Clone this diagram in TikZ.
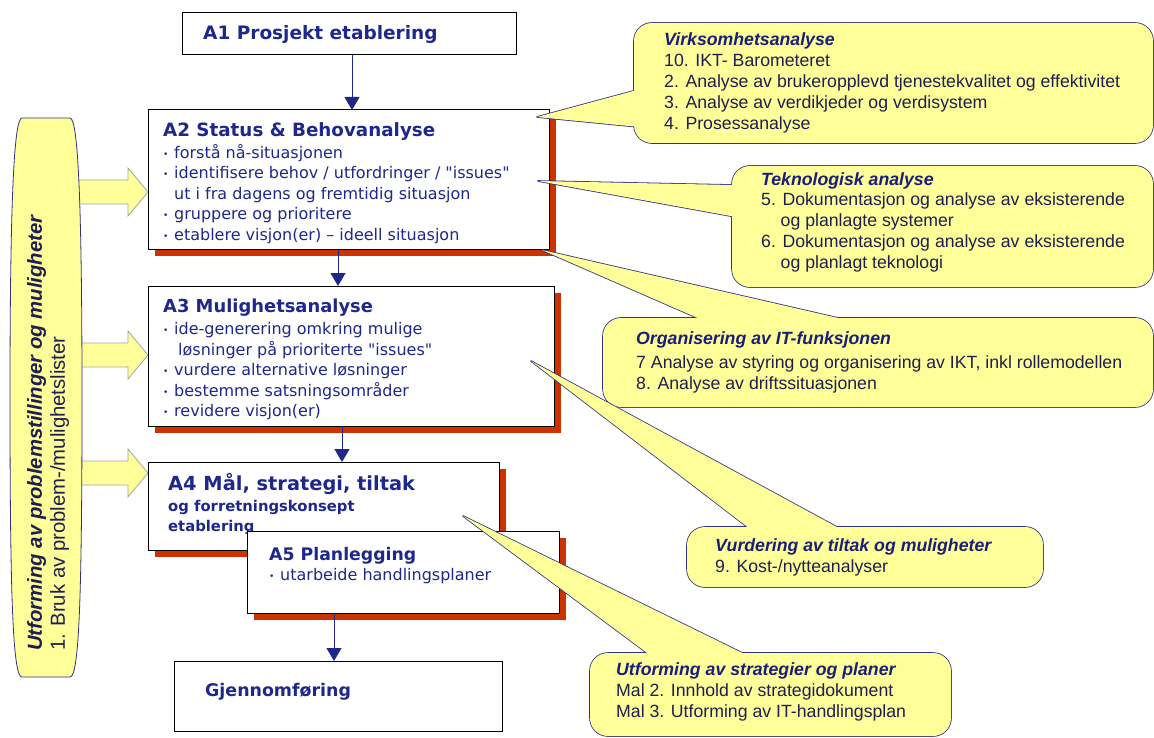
\documentclass[tikz,border=0pt]{standalone}
\usepackage{fontspec}
\setmainfont{Liberation Sans}
\newfontfamily\boxfont{DejaVu Sans}
\usetikzlibrary{arrows.meta,shadows}

\definecolor{navy}{RGB}{30,40,140}
\definecolor{inknavy}{RGB}{30,30,80}
\definecolor{titlenavy}{RGB}{25,30,120}
\definecolor{bubblefill}{RGB}{255,255,153}
\definecolor{bubbleline}{RGB}{50,50,130}
\definecolor{shadowred}{RGB}{204,51,0}
\definecolor{arrowgray}{RGB}{165,165,165}

\newcommand{\blt}{\makebox[11pt][l]{\raisebox{1pt}{\fontsize{9}{9}\selectfont•}}}

\tikzset{
  box/.style={draw=black, line width=1pt, fill=white, inner sep=0pt, outer sep=0pt, anchor=north west},
  shadowed/.style={drop shadow={shadow xshift=6.5pt, shadow yshift=-6.5pt, fill=shadowred, opacity=1}},
  boxtitle/.style={anchor=base west, inner sep=0pt, text=navy, font=\boxfont\bfseries\fontsize{#1}{#1}\selectfont},
  boxtitle/.default=18,
  boxbody/.style={anchor=base west, inner sep=0pt, align=left, text=navy, font=\boxfont\fontsize{16}{20.5}\selectfont},
  flow/.style={draw=navy, line width=1pt, -{Triangle[length=13pt,width=15pt]}},
  bubble/.style={draw=bubbleline, line width=1.6pt, fill=bubblefill, rounded corners=18pt, inner sep=0pt, outer sep=0pt, anchor=north west},
  bubblecover/.style={fill=bubblefill, rounded corners=18pt},
  tailline/.style={draw=bubbleline, line width=1.6pt, line join=round, fill=bubblefill},
  tailcover/.style={fill=bubblefill},
  bubbletext/.style={anchor=west, inner sep=0pt, align=left, text=inknavy, font=\fontsize{17.7}{21}\selectfont},
  barshape/.style={draw=bubbleline, line width=0.8pt, fill=bubblefill},
  bartext/.style={inner sep=0pt, align=left, text=inknavy, font=\fontsize{20.3}{23}\selectfont},
  blockarrow/.style={draw=arrowgray, line width=0.8pt, fill=bubblefill},
}

\begin{document}
\begin{tikzpicture}[x=1pt, y=-1pt]
    \path[use as bounding box, fill=white] (0,0) rectangle (1154,738);

    % arrows from the left bar
    \foreach \ty in {192,355,473}
        \draw[blockarrow] (70,\ty-12) -- (128,\ty-12) -- (128,\ty-24) -- (148,\ty)
            -- (128,\ty+24) -- (128,\ty+12) -- (70,\ty+12) -- cycle;

    \draw[barshape] (22,118) -- (70,118) .. controls (78,118) and (82,200) .. (82,398)
        .. controls (82,600) and (79,677) .. (70,677) -- (22,677)
        .. controls (13,677) and (10,600) .. (10,398) .. controls (10,200) and (14,118) .. (22,118) -- cycle;
    \node[bartext, rotate=90, anchor=north west] (bartxt) at (27,651)
        {{\bfseries\itshape Utforming av problemstillinger og muligheter}\\ 1. Bruk av problem-/mulighetslister};

    % boxes (multi-line texts sit on their last baseline)
    \node[box, minimum width=334pt, minimum height=42pt] (a1) at (182,13) {};
    \node[boxtitle=18.5] (a1title) at ([shift={(21,27)}]a1.north west) {A1 Prosjekt etablering};

    \node[box, shadowed, minimum width=401pt, minimum height=140pt] (a2) at (148,110) {};
    \node[boxtitle=18.3] (a2title) at ([shift={(15,27)}]a2.north west) {A2 Status \& Behovanalyse};
    \node[boxbody] (a2body) at ([shift={(15,130.3)}]a2.north west)
        {\blt forstå nå-situasjonen\\ \blt identifisere behov / utfordringer / "issues"\\
         \hspace*{11pt}ut i fra dagens og fremtidig situasjon\\ \blt gruppere og prioritere\\
         \blt etablere visjon(er) – ideell situasjon};

    \node[box, shadowed, minimum width=406pt, minimum height=140pt] (a3) at (148,286) {};
    \node[boxtitle=17.9] (a3title) at ([shift={(15,26)}]a3.north west) {A3 Mulighetsanalyse};
    \node[boxbody] (a3body) at ([shift={(15,130.6)}]a3.north west)
        {\blt ide-generering omkring mulige\\ \hspace*{15pt}løsninger på prioriterte "issues"\\
         \blt vurdere alternative løsninger\\ \blt bestemme satsningsområder\\ \blt revidere visjon(er)};

    \node[box, shadowed, minimum width=351pt, minimum height=88pt] (a4) at (148,462) {};
    \node[boxtitle=19.4] (a4title) at ([shift={(20,28)}]a4.north west) {A4 Mål, strategi, tiltak};
    \node[boxbody, font=\boxfont\bfseries\fontsize{14.8}{20}\selectfont] (a4body) at ([shift={(20,69.7)}]a4.north west)
        {og forretningskonsept\\ etablering};

    \node[box, shadowed, minimum width=312pt, minimum height=82pt] (a5) at (247,531) {};
    \node[boxtitle=17.3] (a5title) at ([shift={(22,29)}]a5.north west) {A5 Planlegging};
    \node[boxbody] (a5body) at ([shift={(22,49)}]a5.north west) {\blt utarbeide handlingsplaner};

    \node[box, minimum width=328pt, minimum height=70pt] (gj) at (174,661) {};
    \node[boxtitle=17.4] (gjtitle) at ([shift={(31,35.7)}]gj.north west) {Gjennomføring};

    \draw[flow] ([xshift=3pt]a1.south) -- ([xshift=3.5pt]a2.north);
    \draw[flow] ([xshift=-10.5pt]a2.south) -- ([xshift=-13pt]a3.north);
    \draw[flow] ([xshift=-9pt]a3.south) -- ([xshift=18.5pt]a4.north);
    \draw[flow] ([xshift=-69pt]a5.south) -- ([xshift=-4pt]gj.north);

    % callouts
    \draw[tailline] (537,117) -- (700,73) -- (700,133) -- cycle;
    \node[bubble, minimum width=519pt, minimum height=120pt] (virk) at (634,23) {};
    \fill[tailcover] (537,117) -- (700,73) -- (700,133) -- cycle;
    \fill[bubblecover] (virk.north west) rectangle (virk.south east);
    \node[bubbletext] (virktxt) at ([xshift=30pt]virk.west)
        {{\color{titlenavy}\bfseries\itshape Virksomhetsanalyse}\\ 10. IKT- Barometeret\\
         2. Analyse av brukeropplevd tjenestekvalitet og effektivitet\\
         3. Analyse av verdikjeder og verdisystem\\ 4. Prosessanalyse};

    \draw[tailline] (538,181) -- (780,186) -- (780,225) -- cycle;
    \node[bubble, minimum width=421pt, minimum height=121pt] (tekn) at (732,166) {};
    \fill[tailcover] (538,181) -- (780,186) -- (780,225) -- cycle;
    \fill[bubblecover] (tekn.north west) rectangle (tekn.south east);
    \node[bubbletext] (tekntxt) at ([shift={(29,-4)}]tekn.west)
        {{\color{titlenavy}\bfseries\itshape Teknologisk analyse}\\[-1.5pt]
         5. Dokumentasjon og analyse av eksisterende\\ \hspace*{19.5pt}og planlagte systemer\\
         6. Dokumentasjon og analyse av eksisterende\\ \hspace*{19.5pt}og planlagt teknologi};

    \draw[tailline] (542,250) -- (934,340) -- (748,340) -- cycle;
    \node[bubble, minimum width=550pt, minimum height=89pt] (org) at (603,318) {};
    \fill[tailcover] (542,250) -- (934,340) -- (748,340) -- cycle;
    \fill[bubblecover] (org.north west) rectangle (org.south east);
    \node[bubbletext] (orgtxt) at ([xshift=33pt]org.west)
        {{\color{titlenavy}\bfseries\itshape Organisering av IT-funksjonen}\\[2.5pt]
         7 Analyse av styring og organisering av IKT, inkl rollemodellen\\
         8. Analyse av driftssituasjonen};

    \draw[tailline] (531,361) -- (771,545) -- (870,545) -- cycle;
    \node[bubble, minimum width=356pt, minimum height=60pt] (vurd) at (687,527) {};
    \fill[tailcover] (531,361) -- (771,545) -- (870,545) -- cycle;
    \fill[bubblecover] (vurd.north west) rectangle (vurd.south east);
    \node[bubbletext] (vurdtxt) at ([xshift=28pt]vurd.west)
        {{\color{titlenavy}\bfseries\itshape Vurdering av tiltak og muligheter}\\ 9. Kost-/nytteanalyser};

    \draw[tailline] (463,516) -- (670,670) -- (777,670) -- cycle;
    \node[bubble, minimum width=361pt, minimum height=83pt] (plan) at (590,653) {};
    \fill[tailcover] (463,516) -- (670,670) -- (777,670) -- cycle;
    \fill[bubblecover] (plan.north west) rectangle (plan.south east);
    \node[bubbletext] (plantxt) at ([shift={(26,-3)}]plan.west)
        {{\color{titlenavy}\bfseries\itshape Utforming av strategier og planer}\\
         Mal 2. Innhold av strategidokument\\ Mal 3. Utforming av IT-handlingsplan};
\end{tikzpicture}
\end{document}
